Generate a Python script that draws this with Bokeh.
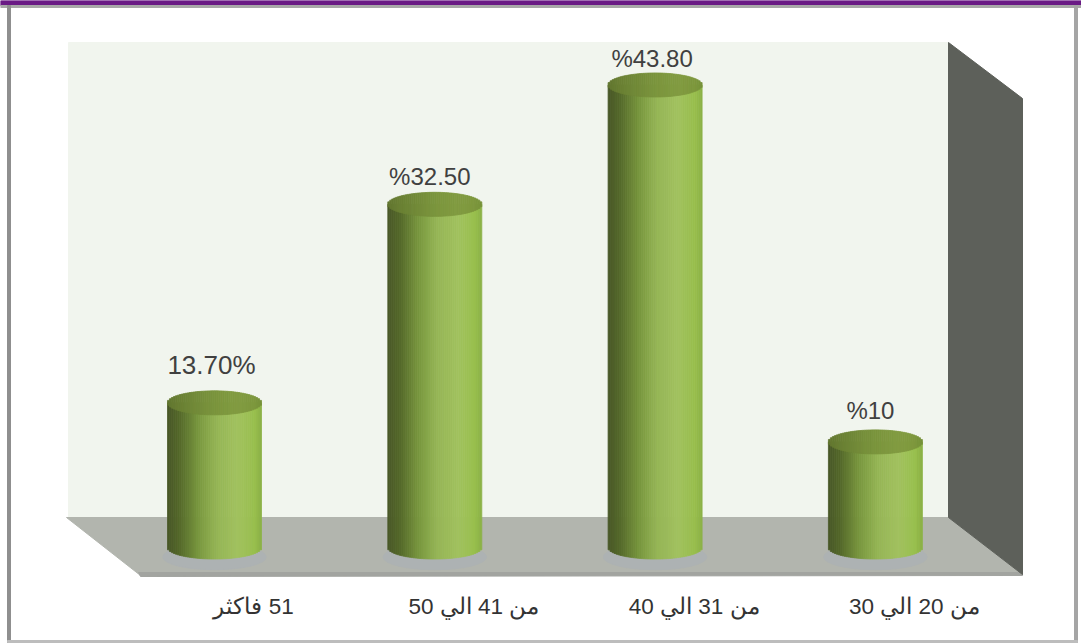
import numpy as np
from bokeh.models import ColumnDataSource, LinearScale, Range1d
from bokeh.plotting import figure
from bokeh.core.properties import value
from bokeh.embed import file_html
from bokeh.resources import INLINE

# Chart data, drawn left to right
categories = ["\u200f51 فاكثر", "من 41 الي 50", "من 31 الي 40", "من 20 الي 30"]
percentages = [13.7, 32.5, 43.8, 10.0]
value_labels = ["13.70%", "%32.50", "%43.80", "%10"]

W, H = 1081, 643
FONT = value("Liberation Sans")

# Screen-space range for the page frame and chart box; two data ranges for the cylinders
p = figure(width=W, height=H, output_backend="svg", toolbar_location=None,
           x_range=Range1d(0, W), y_range=Range1d(H, 0),
           min_border=0, outline_line_color=None, background_fill_color="white",
           border_fill_color="white")
p.axis.visible = False
p.grid.visible = False
p.extra_x_ranges = {"cat": Range1d(-0.9714, 3.9355)}
p.extra_y_ranges = {"pct": Range1d(-9.09, 51.8)}
p.extra_x_scales = {"cat": LinearScale()}
p.extra_y_scales = {"pct": LinearScale()}

# Page frame
p.quad(left=0, right=W, top=0, bottom=5, color="#6a1a85")
p.quad(left=0, right=W, top=5, bottom=7, color="#a8a8a8")
p.quad(left=7, right=10, top=5, bottom=642, color="#8f8f8f")
p.quad(left=1074, right=1077, top=5, bottom=642, color="#a5a5a5")
p.quad(left=7, right=1077, top=640, bottom=642, color="#bdbdbd")

# Back wall, floor with its front lip, side wall
p.patch([68, 948, 948, 68], [42, 42, 517, 517], color="#f1f5ee")
p.patch([66, 948, 1022, 140], [517, 517, 574, 575], color="#b2b5ae")
p.patch([138, 1022, 1022, 140], [572, 572, 575, 576], color="#a2a4a0")
p.patch([948, 1022, 1022, 948], [42, 98, 574, 517], color="#5d605a")

# Cylinder shading across the width: dark on the left, light towards the right
stops_pos = [-1.0, -0.75, -0.35, 0.05, 0.5, 0.85, 1.0]
side_rgb = np.array([[74, 88, 40], [84, 104, 42], [120, 150, 62], [150, 182, 86],
                     [162, 194, 96], [153, 192, 78], [140, 178, 70]], float)
cap_rgb = np.array([[98, 118, 48], [106, 128, 52], [116, 140, 58], [124, 150, 62],
                    [130, 156, 66], [126, 152, 62], [118, 146, 58]], float)


def shade(table, t):
    rgb = [int(np.interp(t, stops_pos, table[:, i])) for i in range(3)]
    return "#%02x%02x%02x" % tuple(rgb)


HALF_W = 47 / 220.3          # cylinder half width, category units
SIDE_RY = 11.5 / 10.56       # base ellipse half height, percentage units
CAP_RY = 12 / 10.56          # top ellipse half height, percentage units
STEPS = 48
edges = np.linspace(-1, 1, STEPS + 1)
mids = (edges[:-1] + edges[1:]) / 2
arc = np.sqrt(1 - mids ** 2)

# Soft floor shadow below each cylinder
p.ellipse(x=list(range(len(percentages))), y=[-0.9] * len(percentages),
          width=2.2 * HALF_W, height=2.2 * SIDE_RY, color="#adb2b3",
          x_range_name="cat", y_range_name="pct")

side = dict(left=[], right=[], top=[], bottom=[], color=[])
cap = dict(left=[], right=[], top=[], bottom=[], color=[])
for i, pct in enumerate(percentages):
    for a, b, m, h in zip(edges[:-1], edges[1:], mids, arc):
        left, right = i + a * HALF_W, i + b * HALF_W
        side["left"].append(left)
        side["right"].append(right)
        side["top"].append(pct)
        side["bottom"].append(-SIDE_RY * h)
        side["color"].append(shade(side_rgb, m))
        cap["left"].append(left)
        cap["right"].append(right)
        cap["top"].append(pct + CAP_RY * h)
        cap["bottom"].append(pct - CAP_RY * h)
        cap["color"].append(shade(cap_rgb, m))

p.quad(source=ColumnDataSource(side), left="left", right="right", top="top", bottom="bottom",
       color="color", line_width=0.8, x_range_name="cat", y_range_name="pct")
p.quad(source=ColumnDataSource(cap), left="left", right="right", top="top", bottom="bottom",
       color="color", line_width=0.8, x_range_name="cat", y_range_name="pct")

# Value labels above the cylinders
label_src = ColumnDataSource(dict(
    x=list(range(len(percentages))), y=percentages, text=value_labels,
    dx=[-3, -5, -3, -5], dy=[-38, -28, -26, -31],
    size=["26px", "24px", "24px", "24px"]))
p.text(source=label_src, x="x", y="y", text="text", x_offset="dx", y_offset="dy",
       text_align="center", text_baseline="middle", text_font=FONT,
       text_font_size="size", text_color="#404040",
       x_range_name="cat", y_range_name="pct")

# Category labels below the floor
cat_src = ColumnDataSource(dict(x=list(range(len(categories))), y=[-5.6] * len(categories),
                                text=categories))
p.text(source=cat_src, x="x", y="y", text="text", x_offset=39, text_align="center",
       text_baseline="middle", text_font=FONT, text_font_size="22.5px",
       text_color="#333333", x_range_name="cat", y_range_name="pct")

open("out.html", "w").write(file_html(p, INLINE))
